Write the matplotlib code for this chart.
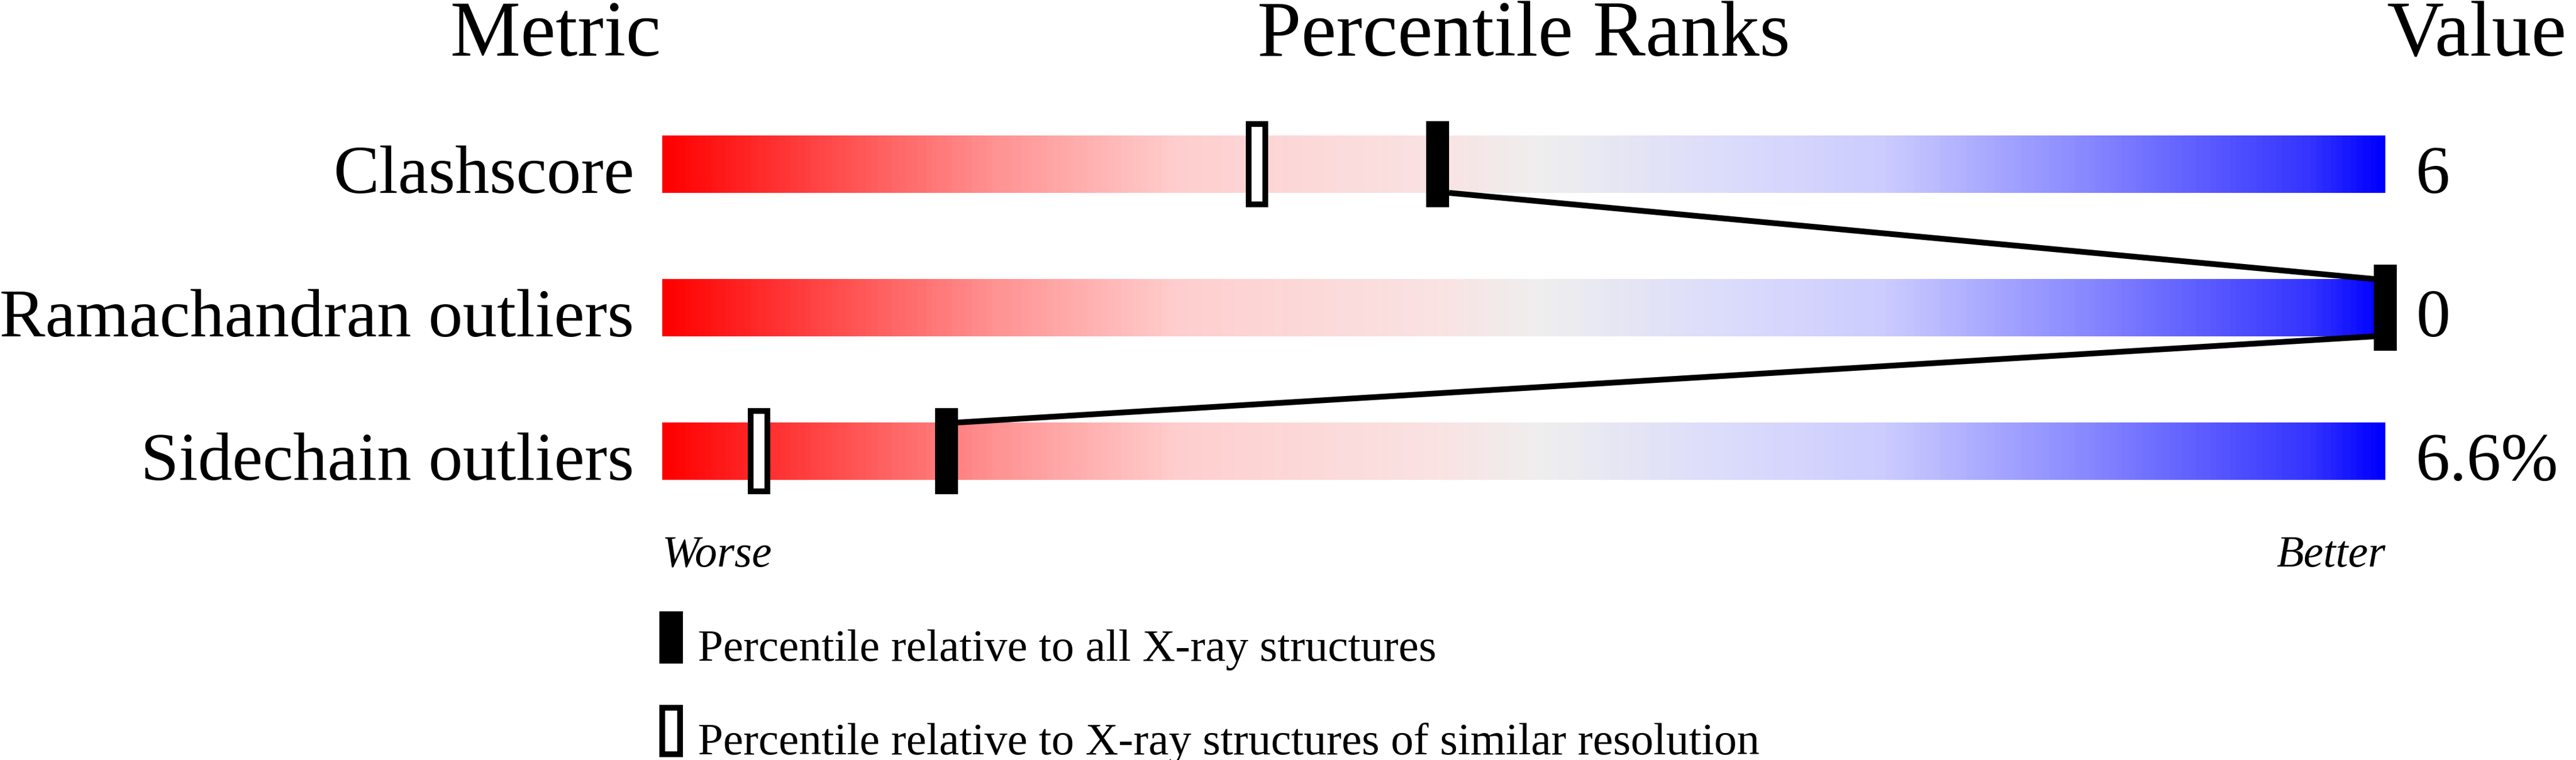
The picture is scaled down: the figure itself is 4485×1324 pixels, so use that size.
import numpy as np
import matplotlib
matplotlib.use("Agg")
import matplotlib.pyplot as plt
from matplotlib.colors import LinearSegmentedColormap
from matplotlib.patches import Rectangle

# data
metrics = ["Clashscore", "Ramachandran outliers", "Sidechain outliers"]
values = ["6", "0", "6.6%"]
pct_all = [45, 100, 16.5]       # percentile vs all X-ray structures
pct_similar = [34.5, None, 5.6]  # percentile vs similar resolution
legend_labels = ["Percentile relative to all X-ray structures",
                 "Percentile relative to X-ray structures of similar resolution"]

plt.rcParams['font.family'] = ['Liberation Serif', 'DejaVu Serif']

W, H = 4485, 1324
fig = plt.figure(figsize=(W / 100, H / 100), dpi=100)

# axes: x = percentile 0..100 over the bar, y = row index
x0, bw = 1153, 3000
ax = fig.add_axes([x0 / W, 0, bw / W, 1])
ax.set_xlim(0, 100)
ax.set_ylim((H - 286) / 250, -286 / 250)
ax.axis("off")

cmap = LinearSegmentedColormap.from_list("pdb", [
    (0.0, (1, 0, 0)),
    (0.13, (1, 0.39, 0.39)),
    (0.19, (1, 0.57, 0.57)),
    (0.30, (1, 0.81, 0.81)),
    (0.45, (0.98, 0.89, 0.89)),
    (0.51, (0.935, 0.935, 0.935)),
    (0.62, (0.86, 0.86, 0.99)),
    (0.71, (0.80, 0.80, 1)),
    (0.83, (0.53, 0.53, 1)),
    (0.96, (0.2, 0.2, 1)),
    (1.0, (0, 0, 1)),
])
grad = np.linspace(0, 1, 600).reshape(1, -1)

bar_h = 0.4
mk_w, mk_h = 40 / 30, 0.6
lw_px = 10 * 0.72

for i, name in enumerate(metrics):
    ax.imshow(grad, cmap=cmap, aspect="auto",
              extent=(0, 100, i + bar_h / 2, i - bar_h / 2), zorder=1)
    ax.text(-1.63, i + bar_h / 2, name, ha="right", va="baseline", fontsize=86)
    ax.text(101.77, i + bar_h / 2, values[i], ha="left", va="baseline", fontsize=86)

# connecting lines between the "all" markers
for i in range(len(metrics) - 1):
    a, b = pct_all[i], pct_all[i + 1]
    xa = a + mk_w / 2 if b > a else a - mk_w / 2
    xb = b - mk_w / 2 if b > a else b + mk_w / 2
    ax.plot([xa, xb], [i + bar_h / 2, i + 1 - bar_h / 2], color="black",
            lw=lw_px, solid_capstyle="butt", zorder=2, clip_on=False)

for i in range(len(metrics)):
    p = pct_all[i]
    ax.add_patch(Rectangle((p - mk_w / 2, i - mk_h / 2), mk_w, mk_h,
                           facecolor="black", edgecolor="none", zorder=3, clip_on=False))
    q = pct_similar[i]
    if q is not None:
        ax.add_patch(Rectangle((q - 29 / 60, i - 0.28), 29 / 30, 0.56,
                               facecolor="white", edgecolor="black", lw=lw_px,
                               zorder=3, clip_on=False))

# headers
ty = (97 - 286) / 250
ax.text(-0.07, ty, "Metric", ha="right", va="baseline", fontsize=99)
ax.text(50, ty, "Percentile Ranks", ha="center", va="baseline", fontsize=99)
ax.text(100.07, ty, "Value", ha="left", va="baseline", fontsize=99)

# worse / better
wy = (987 - 286) / 250
ax.text(0, wy, "Worse", ha="left", va="baseline", fontsize=56, style="italic")
ax.text(100, wy, "Better", ha="right", va="baseline", fontsize=56, style="italic")

# legend
ly = [(1151 - 286) / 250, (1314 - 286) / 250]
lh = 91 / 250
ax.add_patch(Rectangle((-0.17, ly[0] - lh + 0.02), 41 / 30, lh,
                       facecolor="black", edgecolor="none", clip_on=False))
ax.add_patch(Rectangle((-0.17 + 5 / 30, ly[1] - lh + 0.02 + 5 / 250), 31 / 30, lh - 10 / 250,
                       facecolor="white", edgecolor="black", lw=lw_px, clip_on=False))
for y, lab in zip(ly, legend_labels):
    ax.text(2.07, y, lab, ha="left", va="baseline", fontsize=57)

fig.savefig("out.png", dpi=100, facecolor="white")
